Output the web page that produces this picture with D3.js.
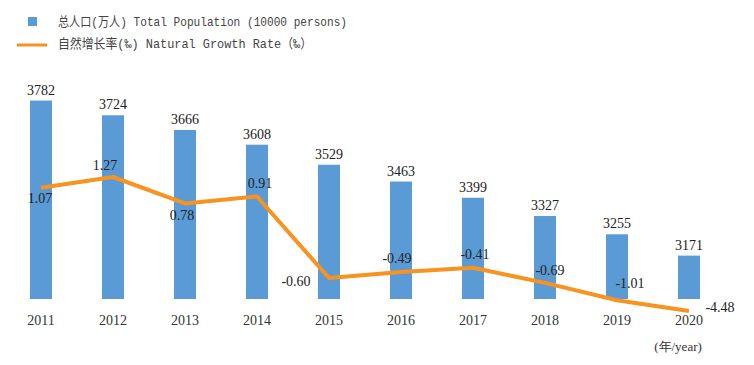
<!DOCTYPE html>
<html>
<head>
<meta charset="utf-8">
<script src="https://cdn.jsdelivr.net/npm/d3@7"></script>
<style>
  body { margin: 0; background: #fff; }
  svg { display: block; }
</style>
</head>
<body>
<div class="chart"></div>
<script>
// data
var years = ["2011", "2012", "2013", "2014", "2015", "2016", "2017", "2018", "2019", "2020"];
var population = [3782, 3724, 3666, 3608, 3529, 3463, 3399, 3327, 3255, 3171];
var growthRate = [1.07, 1.27, 0.78, 0.91, -0.60, -0.49, -0.41, -0.69, -1.01, -4.48];
var growthLabels = ["1.07", "1.27", "0.78", "0.91", "-0.60", "-0.49", "-0.41", "-0.69", "-1.01", "-4.48"];
var legendNames = ["总人口(万人) Total Population (10000 persons)", "自然增长率(‰) Natural Growth Rate（‰）"];
var unitLabel = "(年/year)";

var svgWidth = 754;
var svgHeight = 365;
var baseline = 299;

var svg = d3.select(".chart")
  .append("svg")
  .attr("width", svgWidth)
  .attr("height", svgHeight);

var serif = "'Liberation Serif', 'Times New Roman', serif";
var legendFont = "'Liberation Mono', 'Noto Sans CJK SC', monospace";

// scales
var xScale = d3.scalePoint()
  .domain(years)
  .range([41, 689]);

var barWidth = 22;

var yBar = d3.scaleLinear()
  .domain([3000, 3800])
  .range([baseline, 96]);

// rate axis is squeezed at the bottom in the original, so clamp the outlier
var yRate = d3.scaleLinear()
  .domain([-1.21, 1.27])
  .range([311, 177])
  .clamp(true);

// bars
svg.selectAll("rect.bar")
  .data(population)
  .enter()
  .append("rect")
  .attr("class", "bar")
  .attr("x", function(d, i) { return xScale(years[i]) - barWidth / 2; })
  .attr("y", function(d) { return yBar(d); })
  .attr("width", barWidth)
  .attr("height", function(d) { return baseline - yBar(d); })
  .attr("fill", "#5B9BD5");

svg.selectAll("text.barLabel")
  .data(population)
  .enter()
  .append("text")
  .attr("class", "barLabel")
  .attr("x", function(d, i) { return xScale(years[i]); })
  .attr("y", function(d) { return yBar(d) - 6; })
  .attr("text-anchor", "middle")
  .attr("font-family", serif)
  .attr("font-size", 14)
  .attr("fill", "#222")
  .text(function(d) { return d; });

// line
var line = d3.line()
  .x(function(d, i) { return xScale(years[i]); })
  .y(function(d) { return yRate(d); });

svg.append("path")
  .datum(growthRate)
  .attr("d", line)
  .attr("fill", "none")
  .attr("stroke", "#F7931E")
  .attr("stroke-width", 4)
  .attr("stroke-linejoin", "round");

// label offsets (dx, dy) relative to each point
var rateOffsets = [[-1, 15], [-8, -7], [-3, 17], [3, -8], [-33, 8],
                   [-4, -9], [2, -9], [5, -8], [13, -12], [31, 1]];

svg.selectAll("text.rateLabel")
  .data(growthRate)
  .enter()
  .append("text")
  .attr("class", "rateLabel")
  .attr("x", function(d, i) { return xScale(years[i]) + rateOffsets[i][0]; })
  .attr("y", function(d, i) { return yRate(d) + rateOffsets[i][1]; })
  .attr("text-anchor", "middle")
  .attr("font-family", serif)
  .attr("font-size", 14)
  .attr("fill", "#222")
  .text(function(d, i) { return growthLabels[i]; });

// x axis labels
svg.selectAll("text.year")
  .data(years)
  .enter()
  .append("text")
  .attr("class", "year")
  .attr("x", function(d) { return xScale(d); })
  .attr("y", 325)
  .attr("text-anchor", "middle")
  .attr("font-family", serif)
  .attr("font-size", 14)
  .attr("fill", "#333")
  .text(function(d) { return d; });

svg.append("text")
  .attr("x", 678)
  .attr("y", 351)
  .attr("text-anchor", "middle")
  .attr("font-family", serif)
  .attr("font-size", 13)
  .attr("fill", "#333")
  .text(unitLabel);

// legend
var legend = svg.append("g");

legend.append("rect")
  .attr("x", 28)
  .attr("y", 17)
  .attr("width", 9)
  .attr("height", 9)
  .attr("fill", "#5B9BD5");

legend.append("line")
  .attr("x1", 17)
  .attr("x2", 47)
  .attr("y1", 45)
  .attr("y2", 45)
  .attr("stroke", "#F7931E")
  .attr("stroke-width", 3);

legend.selectAll("text")
  .data(legendNames)
  .enter()
  .append("text")
  .attr("x", 58)
  .attr("y", function(d, i) { return 26 + i * 22; })
  .attr("font-family", legendFont)
  .attr("font-size", 13)
  .attr("fill", "#444")
  .attr("textLength", function(d, i) { return i === 0 ? 289 : 254; })
  .attr("lengthAdjust", "spacingAndGlyphs")
  .text(function(d) { return d; });
</script>
</body>
</html>
